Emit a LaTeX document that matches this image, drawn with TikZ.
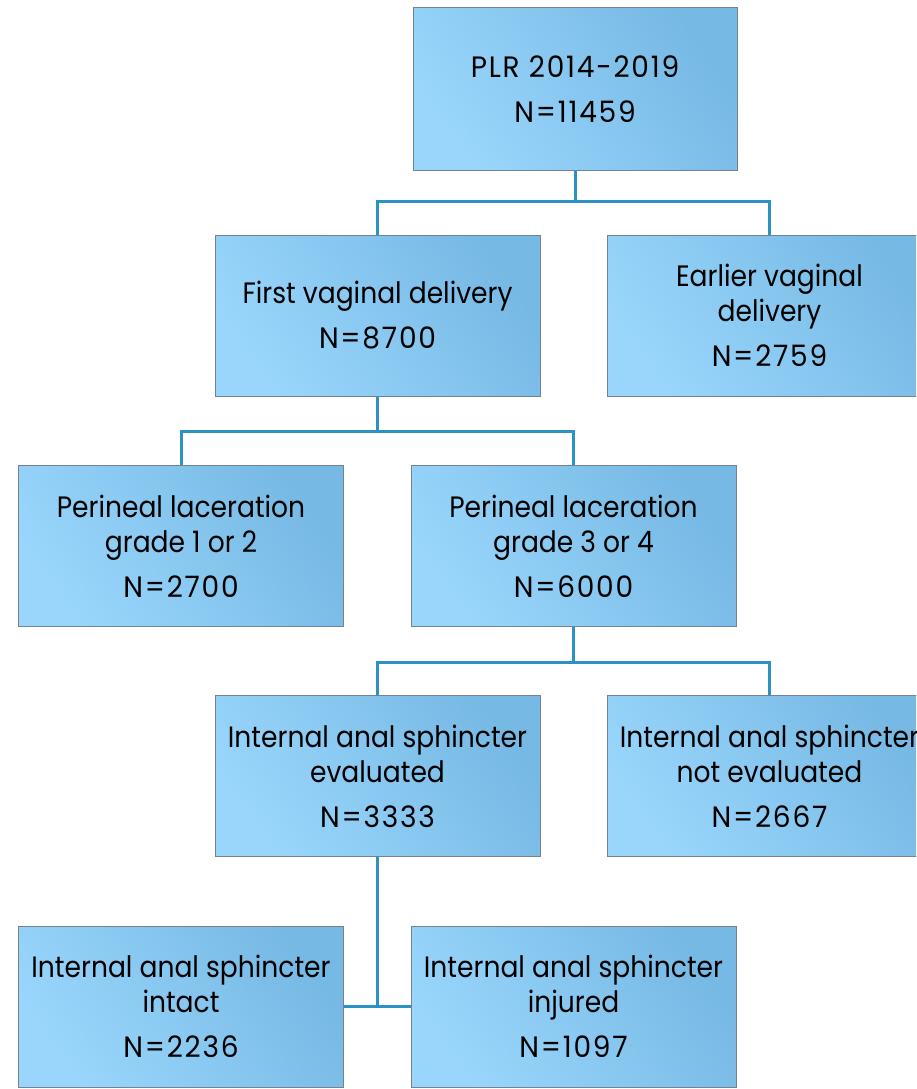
\documentclass[tikz,border=0pt]{standalone}
\usepackage{fontspec}
\setmainfont{Poppins}[FakeStretch=0.9]
\newfontfamily\numfont{Poppins}[FakeStretch=0.95,LetterSpace=6]
\usetikzlibrary{positioning}
\definecolor{boxlight}{HTML}{9AD6FC}
\definecolor{boxdark}{HTML}{76B9E4}
\definecolor{boxedge}{HTML}{74838F}
\definecolor{linkc}{HTML}{2A93C4}
\tikzset{
  box/.style={rectangle, draw=boxedge, line width=1pt,
    left color=boxlight, right color=boxdark, shading angle=125,
    minimum width=325pt, minimum height=161pt, inner sep=0pt,
    align=center, text=black,
    font=\fontsize{29.5pt}{35pt}\selectfont},
  conn/.style={draw=linkc, line width=3pt}
}
\begin{document}
\begin{tikzpicture}[x=1pt,y=-1pt]
\useasboundingbox (0,0) rectangle (916,1089);
\clip (0,0) rectangle (916,1089);
\node[box, minimum width=324pt, minimum height=162pt] (top) at (575,89) {{\numfont PLR 2014-2019}\\[10pt]{\numfont N=11459}};
\node[box] (fvd) at (377.5,315.5) {First vaginal delivery\\[10pt]{\numfont N=8700}};
\node[box] (evd) at (769.5,315.5) {Earlier vaginal\\delivery\\[10pt]{\numfont N=2759}};
\node[box] (pl12) at (181,546) {Perineal laceration\\grade 1 or 2\\[10pt]{\numfont N=2700}};
\node[box] (pl34) at (573.5,546) {Perineal laceration\\grade 3 or 4\\[10pt]{\numfont N=6000}};
\node[box] (iase) at (377.5,776) {Internal anal sphincter\\evaluated\\[10pt]{\numfont N=3333}};
\node[box] (iasn) at (769.5,776) {Internal anal sphincter\\not evaluated\\[10pt]{\numfont N=2667}};
\node[box] (iasi) at (181,1006.5) {Internal anal sphincter\\intact\\[10pt]{\numfont N=2236}};
\node[box] (iasj) at (573.5,1006.5) {Internal anal sphincter\\injured\\[10pt]{\numfont N=1097}};
\draw[conn] (top.south) -- ++(0,31) coordinate (j1) (fvd.north) |- (j1) -| (evd.north);
\draw[conn] (fvd.south) -- ++(0,35) coordinate (j2) (pl12.north) |- (j2) -| (pl34.north);
\draw[conn] (pl34.south) -- ++(0,35) coordinate (j3) (iase.north) |- (j3) -| (iasn.north);
\draw[conn] (iase.south) -- (iase.south |- iasi.east);
\draw[conn] (iasi.east) -- (iasj.west);
\end{tikzpicture}
\end{document}
